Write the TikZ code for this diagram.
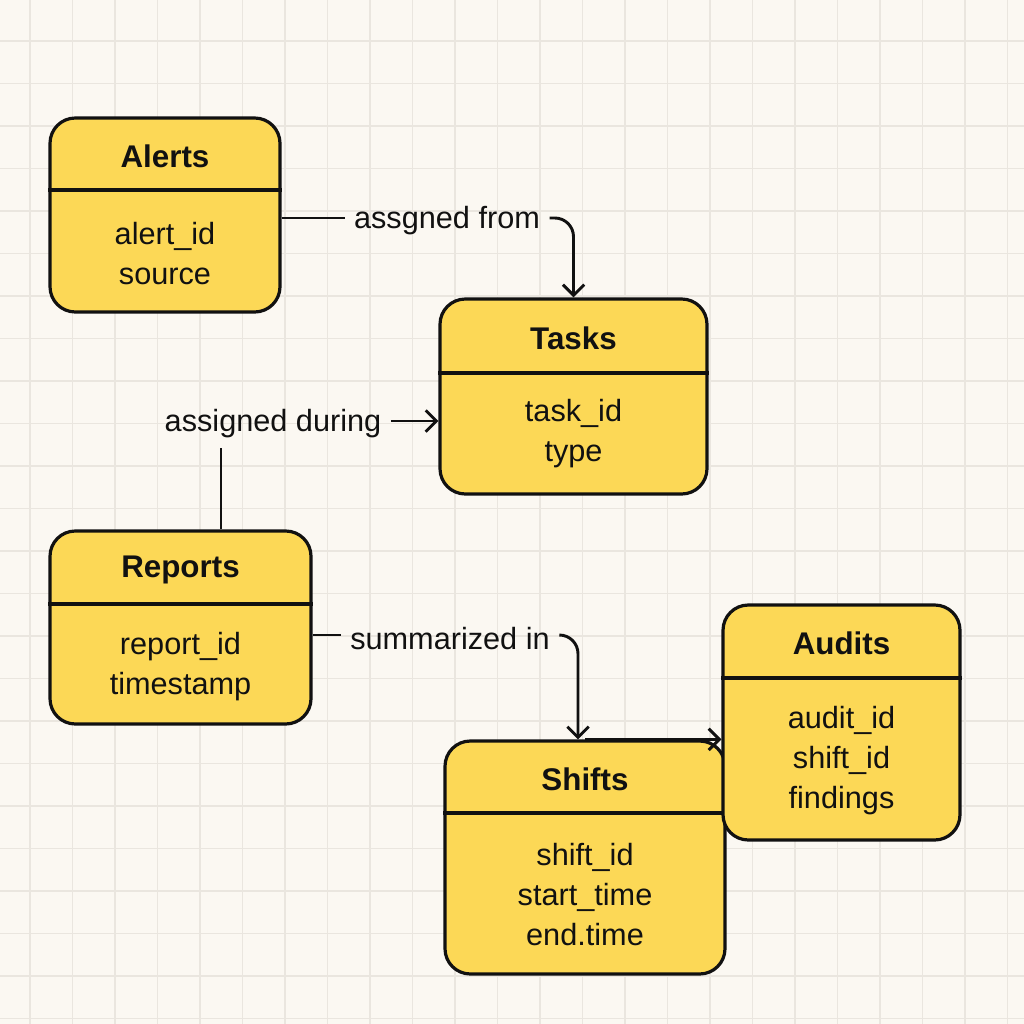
\documentclass[tikz,border=0pt]{standalone}
\usepackage{fontspec}
\setmainfont{Liberation Sans}
\usetikzlibrary{arrows.meta,calc}
\definecolor{bgc}{HTML}{FBF8F2}
\definecolor{gridc}{HTML}{EAE6DF}
\definecolor{boxc}{HTML}{FCD856}
\definecolor{inkc}{HTML}{111111}
\tikzset{
  ent/.style={draw=inkc, fill=boxc, line width=2.4pt, rounded corners=19pt, inner sep=0pt},
  divline/.style={draw=inkc, line width=2.3pt},
  ttl/.style={font=\fontsize{23.5}{27}\selectfont\bfseries, text=inkc, inner sep=0pt},
  fld/.style={font=\fontsize{23}{30}\selectfont, text=inkc, align=center, inner sep=0pt},
  lbl/.style={font=\fontsize{23}{27}\selectfont, text=inkc, inner sep=7pt},
  conn/.style={draw=inkc, line width=2.2pt},
  arr/.style={conn, -{Straight Barb[length=8pt,width=16pt,line width=2.2pt]}}
}
\begin{document}
\begin{tikzpicture}[x=0.75pt,y=-0.75pt]
\fill[bgc] (0,0) rectangle (1024,1024);
\useasboundingbox (0,0) rectangle (1024,1024);
\foreach \i in {0,...,23} {
  \draw[gridc, line width=1pt] ({30+42.5*\i},0) -- ({30+42.5*\i},1024);
  \draw[gridc, line width=1pt] (0,{41+42.5*\i}) -- (1024,{41+42.5*\i});
}
% entity boxes
\node[ent, minimum width=172.5pt, minimum height=145.5pt] (alerts) at (165,215) {};
\draw[divline] (alerts.west |- 0,190) -- (alerts.east |- 0,190);
\node[ttl] (alertsT) at (165,156) {Alerts};
\node[fld] (alertsF) at (165,254) {alert\_id\\source};

\node[ent, minimum width=200.25pt, minimum height=146.25pt] (tasks) at (573.5,396.5) {};
\draw[divline] (tasks.west |- 0,373) -- (tasks.east |- 0,373);
\node[ttl] (tasksT) at (573.5,338) {Tasks};
\node[fld] (tasksF) at (573.5,434) {task\_id\\type};

\node[ent, minimum width=195.75pt, minimum height=144.75pt] (reports) at (180.5,627.5) {};
\draw[divline] (reports.west |- 0,604) -- (reports.east |- 0,604);
\node[ttl] (reportsT) at (180.5,570) {Reports};
\node[fld] (reportsF) at (180.5,667) {report\_id\\timestamp};

\node[ent, minimum width=210pt, minimum height=174.75pt] (shifts) at (585,857.5) {};
\draw[divline] (shifts.west |- 0,813) -- (shifts.east |- 0,813);
\node[ttl] (shiftsT) at (585,779) {Shifts};
\node[fld] (shiftsF) at (585,895) {shift\_id\\start\_time\\end.time};

\node[ent, minimum width=177.75pt, minimum height=176.25pt] (audits) at (841.5,722.5) {};
\draw[divline] (audits.west |- 0,678) -- (audits.east |- 0,678);
\node[ttl] (auditsT) at (841.5,643) {Audits};
\node[fld] (auditsF) at (841.5,761) {audit\_id\\shift\_id\\findings};

% connectors
\node[lbl] (l1) at (447,221) {assgned from};
\coordinate (y1) at (0,218);
\draw[conn] (alerts.east |- y1) -- (l1.west |- y1);
\draw[arr, rounded corners=14pt] (l1.east |- y1) -- (tasks.north |- y1) -- (tasks.north);

\node[lbl] (l2) at (273,424) {assigned during};
\coordinate (c2) at (221,0);
\draw[conn] (reports.north -| c2) -- (l2.south -| c2);
\draw[arr] (l2.east |- 0,421) -- (tasks.west |- 0,421);

\node[lbl] (l3) at (450,639) {summarized in};
\coordinate (c3) at (578,635);
\draw[conn] (reports.east |- c3) -- (l3.west |- c3);
\draw[arr, rounded corners=14pt] (l3.east |- c3) -- (c3) -- (shifts.north -| c3);

\draw[arr] (shifts.north) -- (audits.west |- shifts.north);
\end{tikzpicture}
\end{document}
